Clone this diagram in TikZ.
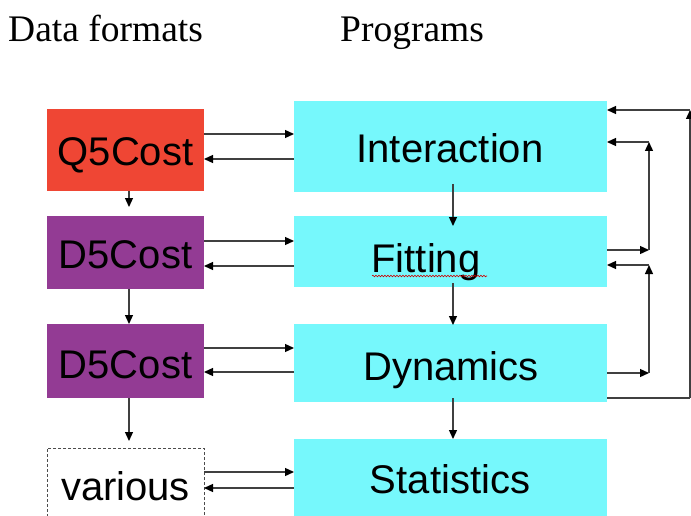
\documentclass[tikz,border=0pt]{standalone}
\usepackage{fontspec}
\setmainfont{Liberation Serif}
\newfontfamily\arialf{Liberation Sans}
\usetikzlibrary{arrows.meta,decorations.pathmorphing}
\definecolor{qred}{RGB}{239,70,52}
\definecolor{dpurple}{RGB}{147,59,148}
\definecolor{pcyan}{RGB}{118,248,252}
\tikzset{
 boxn/.style={rectangle, inner sep=0pt, outer sep=0pt, anchor=north west},
 lbl/.style={anchor=base, inner sep=0pt, font=\arialf\fontsize{40}{42}\selectfont},
 hdr/.style={anchor=base west, inner sep=0pt, font=\fontsize{37.5}{40}\selectfont},
 con/.style={draw=black!75, line width=1.3pt},
 arr/.style={con, -{Triangle[length=9pt,width=8pt,color=black]}},
}
\begin{document}
\begin{tikzpicture}[x=1pt,y=-1pt]
\useasboundingbox (0,0) rectangle (691,516);
\clip (0,0) rectangle (691,516);
% headers
\node[hdr] (h1) at (8,42) {Data formats};
\node[hdr] (h2) at (340,42) {Programs};
% data boxes
\node[boxn, fill=qred, minimum width=157pt, minimum height=82pt] (Q5) at (47,109) {};
\node[boxn, fill=dpurple, minimum width=157pt, minimum height=73pt] (D5a) at (47,216) {};
\node[boxn, fill=dpurple, minimum width=157pt, minimum height=74pt] (D5b) at (47,324) {};
\node[boxn, draw=black!70, line width=1pt, dash pattern=on 3pt off 2pt, minimum width=157pt, minimum height=80pt] (Var) at (47,448) {};
% program boxes
\node[boxn, fill=pcyan, minimum width=313pt, minimum height=91pt] (Int) at (294,101) {};
\node[boxn, fill=pcyan, minimum width=313pt, minimum height=71pt] (Fit) at (294,216) {};
\node[boxn, fill=pcyan, minimum width=313pt, minimum height=78pt] (Dyn) at (294,324) {};
\node[boxn, fill=pcyan, minimum width=313pt, minimum height=85pt] (Stat) at (294,439) {};
% labels
\node[lbl] (Q5t) at (125.5,165) {Q5Cost};
\node[lbl] (D5at) at (125.5,268) {D5Cost};
\node[lbl] (D5bt) at (125.5,378) {D5Cost};
\node[lbl] (Vart) at (125.5,500) {various};
\node[lbl] (Intt) at (450,163) {Interaction};
\node[lbl] (Fitt) at (426,272) {Fitting};
\node[lbl] (Dynt) at (451,380) {Dynamics};
\node[lbl] (Statt) at (450,493) {Statistics};
\draw[red!80!black, line width=0.6pt, decorate, decoration={snake, amplitude=0.8pt, segment length=3pt}] (372,276) -- (487,276);
% horizontal arrows
\draw[arr] (Q5.east |- 0,134) -- (Int.west |- 0,134);
\draw[arr] (Int.west |- 0,159) -- (Q5.east |- 0,159);
\draw[arr] (D5a.east |- 0,241) -- (Fit.west |- 0,241);
\draw[arr] (Fit.west |- 0,266) -- (D5a.east |- 0,266);
\draw[arr] (D5b.east |- 0,348) -- (Dyn.west |- 0,348);
\draw[arr] (Dyn.west |- 0,372) -- (D5b.east |- 0,372);
\draw[arr] (Var.east |- 0,472) -- (Stat.west |- 0,472);
\draw[arr] (Stat.west |- 0,488) -- (Var.east |- 0,488);
% vertical arrows, data
\draw[arr, shorten >=9pt] (Q5.south -| 129,0) -- (D5a.north -| 129,0);
\draw[arr] (D5a.south -| 129,0) -- (D5b.north -| 129,0);
\draw[arr, shorten >=7pt] (D5b.south -| 129,0) -- (Var.north -| 129,0);
% vertical arrows, programs
\draw[arr, shorten <=-8pt, shorten >=-10pt] (Int.south -| 453,0) -- (Fit.north -| 453,0);
\draw[arr, shorten <=-4pt, shorten >=-1pt] (Fit.south -| 453,0) -- (Dyn.north -| 453,0);
\draw[arr, shorten <=-4pt] (Dyn.south -| 453,0) -- (Stat.north -| 453,0);
% right side feedback
\coordinate (ia) at (649,250);
\coordinate (ib) at (649,142);
\coordinate (ja) at (649,373);
\coordinate (jb) at (649,265);
\coordinate (oa) at (690,398);
\coordinate (ob) at (690,110);
\draw[arr] (Fit.east |- ia) -- (ia);
\draw[arr] (ia) -- (ib);
\draw[arr] (ib) -- (Int.east |- ib);
\draw[arr] (Dyn.east |- ja) -- (ja);
\draw[arr] (ja) -- (jb);
\draw[arr] (jb) -- (Fit.east |- jb);
\draw[con] (Dyn.east |- oa) -- (oa);
\draw[arr] (oa) -- (ob);
\draw[arr] (ob) -- (Int.east |- ob);
\end{tikzpicture}
\end{document}
